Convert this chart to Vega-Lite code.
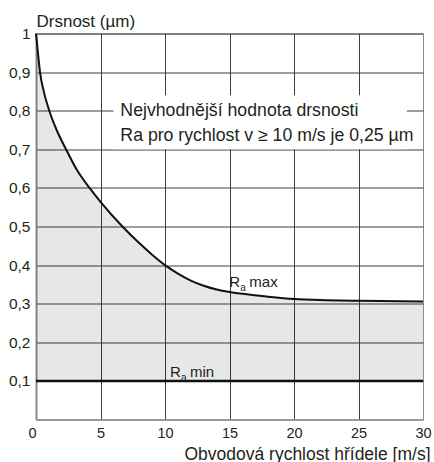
{
  "$schema": "https://vega.github.io/schema/vega-lite/v6.json",
  "width": 387,
  "height": 386,
  "autosize": {"type": "none"},
  "padding": {"left": 36, "top": 33.5, "right": 11, "bottom": 42.5},
  "background": "white",
  "config": {
    "font": "Liberation Sans",
    "view": {"stroke": "#8c8c8c", "strokeWidth": 1},
    "axis": {"labelColor": "#231f20", "titleColor": "#231f20", "titleFontWeight": "normal", "ticks": false}
  },
  "datasets": {
    "curve": [
      {"v": 0, "ra": 1.0},
      {"v": 0.15, "ra": 0.95},
      {"v": 0.31, "ra": 0.9},
      {"v": 0.6, "ra": 0.85},
      {"v": 1.03, "ra": 0.8},
      {"v": 1.6, "ra": 0.75},
      {"v": 2.33, "ra": 0.7},
      {"v": 3.2, "ra": 0.645},
      {"v": 4.15, "ra": 0.6},
      {"v": 5, "ra": 0.564},
      {"v": 6.7, "ra": 0.5},
      {"v": 8, "ra": 0.457},
      {"v": 9, "ra": 0.427},
      {"v": 10, "ra": 0.4},
      {"v": 11, "ra": 0.378},
      {"v": 12, "ra": 0.36},
      {"v": 13, "ra": 0.3465},
      {"v": 14, "ra": 0.337},
      {"v": 15, "ra": 0.3305},
      {"v": 16, "ra": 0.3255},
      {"v": 17.5, "ra": 0.32},
      {"v": 20, "ra": 0.312},
      {"v": 22.5, "ra": 0.309},
      {"v": 25, "ra": 0.3075},
      {"v": 30, "ra": 0.306}
    ],
    "ramin": [{"v": 0, "v2": 30, "ra": 0.1}],
    "box": [{"v": 6, "v2": 28.75, "ra": 0.7, "ra2": 0.84}],
    "note": [
      {"v": 6.54, "ra": 0.786, "text": "Nejvhodnější hodnota drsnosti"},
      {"v": 6.54, "ra": 0.7223, "text": "Ra pro rychlost v ≥ 10 m/s je 0,25 µm"}
    ],
    "labels": [
      {"v": 14.95, "ra": 0.3425, "sub": "max"},
      {"v": 10.35, "ra": 0.1093, "sub": "min"}
    ]
  },
  "encoding": {
    "x": {
      "field": "v",
      "type": "quantitative",
      "scale": {"domain": [0, 30], "nice": false, "zero": false},
      "axis": {
        "title": "Obvodová rychlost hřídele [m/s]",
        "values": [0, 5, 10, 15, 20, 25, 30],
        "grid": true,
        "gridColor": {"condition": [{"test": "datum.value == 0", "value": "transparent"}, {"test": "datum.value == 30", "value": "#8c8c8c"}], "value": "#3d3d3d"},
        "gridWidth": 1,
        "domainColor": "#8c8c8c",
        "domainWidth": 1.5,
        "labelFontSize": 14.5,
        "labelPadding": 7,
        "labelAlign": {"condition": {"test": "datum.value == 0", "value": "right"}, "value": "center"},
        "labelFlush": false,
        "labelOverlap": false,
        "titleFontSize": 17.5,
        "titleAnchor": "end",
        "titleAlign": "right",
        "titleBaseline": "alphabetic",
        "titleX": 394,
        "titleY": 39.5
      }
    },
    "y": {
      "field": "ra",
      "type": "quantitative",
      "scale": {"domain": [0, 1], "nice": false},
      "axis": {
        "title": "Drsnost (µm)",
        "values": [0, 0.1, 0.2, 0.3, 0.4, 0.5, 0.6, 0.7, 0.8, 0.9, 1],
        "labelExpr": "datum.value == 0 ? '' : replace(format(datum.value, '.1~f'), '.', ',')",
        "grid": true,
        "gridColor": {"condition": {"test": "datum.value == 0", "value": "transparent"}, "value": "#3d3d3d"},
        "gridWidth": 1,
        "domainColor": "#8c8c8c",
        "domainWidth": 2,
        "labelFontSize": 15.5,
        "labelPadding": 6,
        "labelFlush": false,
        "labelOverlap": false,
        "titleFontSize": 17,
        "titleAngle": 0,
        "titleAnchor": "start",
        "titleAlign": "left",
        "titleBaseline": "alphabetic",
        "titleX": 0,
        "titleY": -7.5
      }
    }
  },
  "layer": [
    {
      "data": {"name": "curve"},
      "mark": {"type": "area", "interpolate": "monotone", "color": "#0a1020", "opacity": 0.1},
      "encoding": {"y2": {"datum": 0.1}}
    },
    {
      "data": {"name": "ramin"},
      "mark": {"type": "rule", "color": "#111111", "strokeWidth": 2.5},
      "encoding": {"x2": {"field": "v2"}}
    },
    {
      "data": {"name": "curve"},
      "mark": {"type": "line", "interpolate": "monotone", "color": "#111111", "strokeWidth": 2}
    },
    {
      "data": {"name": "box"},
      "mark": {"type": "rect", "fill": "white", "stroke": null},
      "encoding": {"x2": {"field": "v2"}, "y2": {"field": "ra2"}}
    },
    {
      "data": {"name": "note"},
      "mark": {"type": "text", "align": "left", "baseline": "alphabetic", "fontSize": 17.7, "color": "#231f20"},
      "encoding": {"text": {"field": "text"}}
    },
    {
      "data": {"name": "labels"},
      "mark": {"type": "text", "align": "left", "baseline": "alphabetic", "fontSize": 15, "color": "#231f20", "text": "R", "dx": 0.5}
    },
    {
      "data": {"name": "labels"},
      "mark": {"type": "text", "align": "left", "baseline": "alphabetic", "fontSize": 10, "color": "#231f20", "text": "a", "dx": 11.5, "dy": 3.4}
    },
    {
      "data": {"name": "labels"},
      "mark": {"type": "text", "align": "left", "baseline": "alphabetic", "fontSize": 15, "color": "#231f20", "dx": 20.5},
      "encoding": {"text": {"field": "sub"}}
    }
  ]
}
